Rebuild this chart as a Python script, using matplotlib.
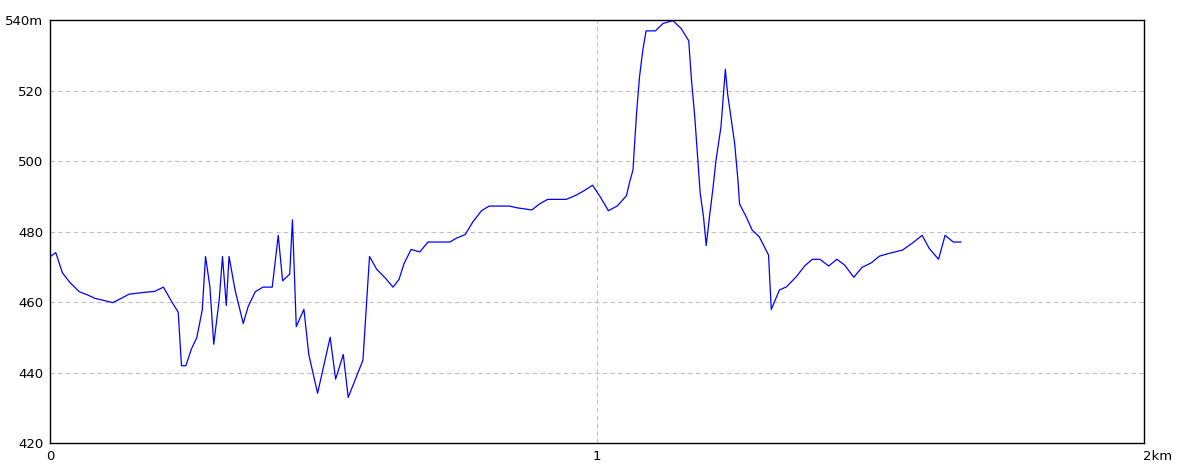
import matplotlib
matplotlib.use("Agg")
import matplotlib.pyplot as plt

# Profil altimétrique (distance en km, altitude en m)
dist_km = [0.000, 0.010, 0.022, 0.036, 0.053, 0.068, 0.082, 0.099, 0.114, 0.127,
           0.144, 0.171, 0.191, 0.207, 0.222, 0.234, 0.240, 0.248, 0.258, 0.268,
           0.278, 0.284, 0.292, 0.299, 0.309, 0.315, 0.322, 0.327, 0.338, 0.353,
           0.362, 0.375, 0.389, 0.406, 0.417, 0.425, 0.438, 0.443, 0.450, 0.464,
           0.473, 0.489, 0.512, 0.522, 0.536, 0.545, 0.572, 0.584, 0.597, 0.614,
           0.627, 0.638, 0.647, 0.660, 0.676, 0.691, 0.731, 0.743, 0.759, 0.773,
           0.789, 0.803, 0.840, 0.854, 0.881, 0.895, 0.910, 0.944, 0.962, 0.977,
           0.992, 1.005, 1.021, 1.037, 1.054, 1.060, 1.066, 1.069, 1.073, 1.078,
           1.084, 1.090, 1.107, 1.121, 1.139, 1.154, 1.168, 1.173, 1.179, 1.185,
           1.189, 1.195, 1.200, 1.206, 1.212, 1.218, 1.227, 1.235, 1.239, 1.246,
           1.252, 1.258, 1.261, 1.273, 1.284, 1.297, 1.314, 1.319, 1.334, 1.347,
           1.365, 1.380, 1.394, 1.408, 1.424, 1.439, 1.453, 1.470, 1.485, 1.502,
           1.517, 1.535, 1.559, 1.578, 1.595, 1.608, 1.625, 1.637, 1.652, 1.666]
alt_m = [473.0, 474.1, 468.4, 465.6, 463.0, 462.1, 461.1, 460.5, 459.9, 460.9,
         462.3, 462.8, 463.1, 464.3, 460.2, 457.2, 442.0, 442.0, 446.7, 450.0,
         457.8, 473.0, 464.4, 448.1, 460.7, 473.0, 459.1, 473.0, 463.5, 454.0,
         458.8, 463.0, 464.3, 464.3, 479.0, 466.1, 468.0, 483.4, 453.1, 458.0,
         445.1, 434.2, 450.1, 438.2, 445.2, 433.0, 443.6, 473.0, 469.4, 466.7,
         464.3, 466.5, 470.9, 475.0, 474.3, 477.1, 477.1, 478.2, 479.2, 482.8,
         486.0, 487.3, 487.3, 486.8, 486.2, 487.9, 489.2, 489.2, 490.4, 491.7,
         493.2, 490.2, 486.0, 487.3, 490.2, 494.2, 497.5, 505.1, 514.6, 524.0,
         531.6, 537.0, 537.0, 539.1, 539.9, 537.7, 534.2, 523.1, 512.7, 499.4,
         490.9, 484.3, 476.1, 484.3, 491.9, 500.4, 509.8, 526.1, 519.3, 511.7,
         505.1, 494.7, 487.9, 484.3, 480.5, 478.6, 473.4, 458.0, 463.5, 464.4,
         467.3, 470.3, 472.2, 472.2, 470.3, 472.2, 470.6, 467.1, 469.9, 471.2,
         473.1, 473.9, 474.8, 476.9, 479.0, 475.3, 472.2, 479.0, 477.1, 477.1]

y_ticks = [420, 440, 460, 480, 500, 520, 540]
y_labels = ["420", "440", "460", "480", "500", "520", "540m"]
x_ticks = [0, 1, 2]
x_labels = ["0", "1", "2km"]

plt.rcParams['font.family'] = ['Liberation Sans Narrow', 'DejaVu Sans']

fig = plt.figure(figsize=(11.84, 4.73), dpi=100)
ax = fig.add_axes([50.3 / 1184, (473 - 443.3) / 473,
                   (1143.5 - 50.3) / 1184, 423 / 473])

ax.plot(dist_km, alt_m, color='#0000ff', linewidth=0.9)

ax.set_xlim(0, 2)
ax.set_ylim(420, 540)

# Grille pointillée grise
for y in y_ticks[1:-1]:
    ax.axhline(y, color='#c0c0c0', linewidth=0.8, linestyle=(0, (4, 3)), zorder=0)
ax.axvline(1, color='#c0c0c0', linewidth=0.8, linestyle=(0, (4, 3)), zorder=0)

ax.set_yticks(y_ticks)
ax.set_yticklabels(y_labels, fontsize=9.5)
ax.set_xticks(x_ticks)
ax.set_xticklabels(x_labels, fontsize=9.5)
ax.tick_params(length=0, pad=5)
ax.get_xticklabels()[-1].set_horizontalalignment('left')
ax.get_xticklabels()[-1].set_x(1.995)

for s in ax.spines.values():
    s.set_color('black')
    s.set_linewidth(1.0)

fig.savefig('out.png', dpi=100)
